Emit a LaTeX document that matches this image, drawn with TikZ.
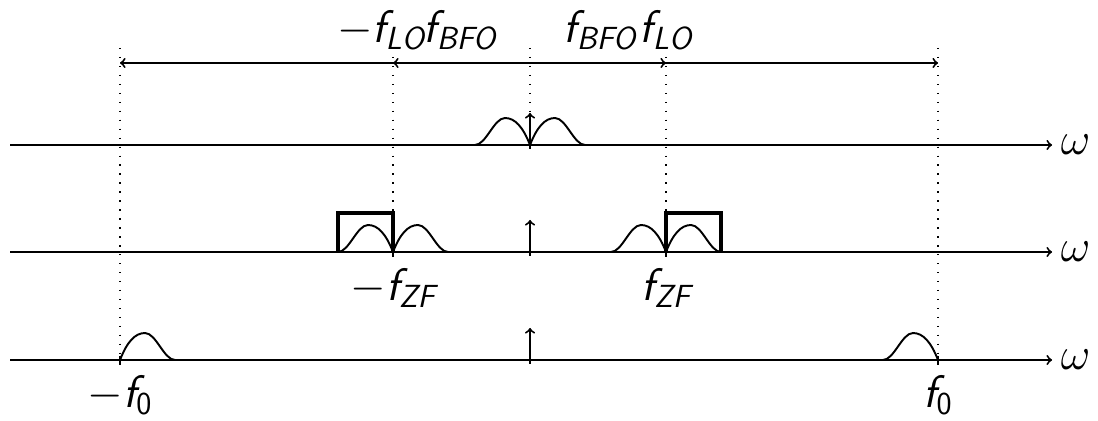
\RequirePackage{fix-cm}
\documentclass[tikz,border=0pt]{standalone}
\usepackage{amsmath}
\usepackage{tikz}

% schraege Sans-Buchstaben wie im Formelsatz der Folien
\newcommand{\sv}[1]{\textsf{\slshape #1}}
\newcommand{\su}[1]{\textsf{#1}}
% Spektralbuckel: steiler Fuss bei (#1,#2), Auslauf nach #3 (1 = rechts, -1 = links)
\newcommand{\hump}[3]{%
  \draw[shift={(#1,#2)}, xscale=#3] (0,0) .. controls (7,-18) and (15,-27) .. (25,-27)
    .. controls (36,-27) and (44,0) .. (55,0);}

\begin{document}
\begin{tikzpicture}[x=0.02cm, y=-0.02cm, line width=1.1pt,
    guide/.style={line width=0.8pt, dash pattern=on 0.8pt off 4.3pt},
    filt/.style={line width=2pt},
    lbl/.style={font=\fontsize{26}{30}\selectfont, inner sep=0pt}]
  \useasboundingbox (0,0) rectangle (1098,421);

  % drei Frequenzachsen
  \foreach \y/\n in {145/1, 252/2, 360/3} {
    \coordinate (ax\n l) at (10,\y);
    \coordinate (ax\n r) at (1052,\y);
    \draw[->] (ax\n l) -- (ax\n r);
    \node[lbl, anchor=west] (w\n) at (1060,\y) {$\omega$};
  }

  % Hilfslinien
  \coordinate (gtop0) at (530,48);   \coordinate (gbot0) at (530,145);
  \coordinate (gtopL) at (393,48);   \coordinate (gbotL) at (393,252);
  \coordinate (gtopR) at (666,48);   \coordinate (gbotR) at (666,252);
  \coordinate (gtopA) at (120,48);   \coordinate (gbotA) at (120,360);
  \coordinate (gtopB) at (938,48);   \coordinate (gbotB) at (938,360);
  \foreach \g in {0,L,R,A,B}
    \draw[guide] (gtop\g) -- (gbot\g);

  % Frequenzpfeile oben
  \coordinate (mid) at (530,63);
  \coordinate (loL) at (393,63);  \coordinate (loR) at (666,63);
  \coordinate (fA) at (120,63);   \coordinate (fB) at (938,63);
  \draw[->] (mid) -- (fA);
  \draw[->] (mid) -- (fB);
  \draw[->] (mid) -- (loL);
  \draw[->] (mid) -- (loR);
  \node[lbl, anchor=base] (lo1) at (381,43) {$-\sv{f}_{\sv{LO}}$};
  \node[lbl, anchor=base] (bfo1) at (460,43) {$\sv{f}_{\sv{BFO}}$};
  \node[lbl, anchor=base] (bfo2) at (600,43) {$\sv{f}_{\sv{BFO}}$};
  \node[lbl, anchor=base] (lo2) at (666,43) {$\sv{f}_{\sv{LO}}$};

  % Traeger (Dirac-Pfeile)
  \foreach \y/\n in {145/1, 252/2, 360/3} {
    \coordinate (d\n b) at (530,\y+4);
    \coordinate (d\n t) at (530,\y-32);
    \draw[->] (d\n b) -- (d\n t);
  }

  % Spektren
  \hump{530}{145}{-1}
  \hump{530}{145}{1}
  \hump{393}{252}{-1}
  \hump{393}{252}{1}
  \hump{666}{252}{-1}
  \hump{666}{252}{1}
  \hump{120}{360}{1}
  \hump{938}{360}{-1}

  % ZF-Filter
  \draw[filt] (338,252) -- (338,213) -- (393,213) -- (393,252);
  \draw[filt] (666,252) -- (666,213) -- (721,213) -- (721,252);

  % kleine Marken an den Achsen
  \foreach \x/\y in {393/252, 666/252, 120/360, 938/360}
    \draw (\x,\y-4) -- (\x,\y+5);

  \node[lbl, anchor=base] (zf1) at (393,301) {$-\sv{f}_{\sv{ZF}}$};
  \node[lbl, anchor=base] (zf2) at (666,301) {$\sv{f}_{\sv{ZF}}$};
  \node[lbl, anchor=base] (f01) at (120,408) {$-\sv{f}_{\su{0}}$};
  \node[lbl, anchor=base] (f02) at (938,408) {$\sv{f}_{\su{0}}$};
\end{tikzpicture}
\end{document}
